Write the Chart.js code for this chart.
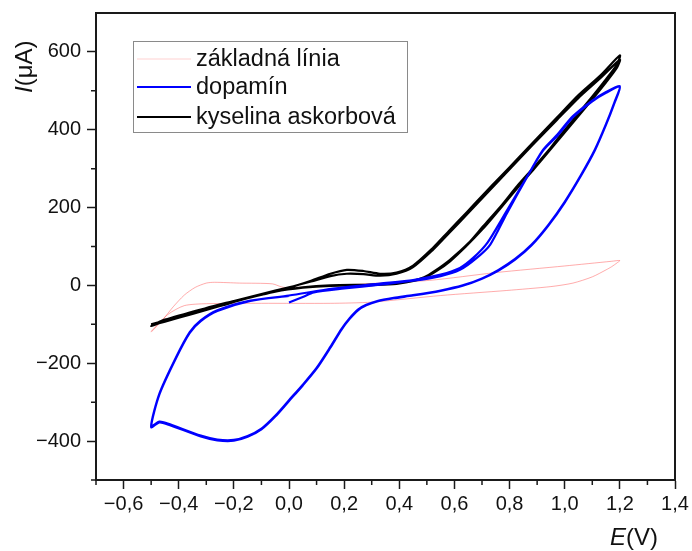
<!DOCTYPE html>
<html>
<head>
<meta charset="utf-8">
<script src="https://cdn.jsdelivr.net/npm/chart.js@4/dist/chart.umd.min.js"></script>
<style>
  html, body { margin: 0; padding: 0; background: #fff; }
  canvas { display: block; }
</style>
</head>
<body>
<canvas id="cvChart" width="692" height="551"></canvas>
<script>
// legend labels
const seriesLabels = ['základná línia', 'dopamín', 'kyselina askorbová'];

// axis ticks
const xMajorTicks = [-0.6, -0.4, -0.2, 0.0, 0.2, 0.4, 0.6, 0.8, 1.0, 1.2, 1.4];
const xMinorTicks = [-0.7, -0.5, -0.3, -0.1, 0.1, 0.3, 0.5, 0.7, 0.9, 1.1, 1.3];
const yMajorTicks = [-400, -200, 0, 200, 400, 600];
const yMinorTicks = [-500, -300, -100, 100, 300, 500];

// zakladna linia (baseline) - E in V, I in uA
const baseE = [-0.5, -0.46, -0.42, -0.38, -0.34, -0.3, -0.27, -0.18, -0.06, -0.02, 0.1, 0.3, 0.51, 0.75, 1.0, 1.17, 1.2,
               1.19, 1.17, 1.15, 1.1, 1.03, 0.95, 0.79, 0.55, 0.3, 0.15, -0.1, -0.3, -0.38, -0.44, -0.5];
const baseI = [-120, -90, -55, -25, -5, 6, 8, 6, 4, -5, -3, 5, 13, 33, 50, 62, 64,
               58, 48, 40, 22, 6, -3, -13, -26, -43, -46, -46, -47, -52, -75, -118];

// dopamin
const dopaminE = [0.0, 0.05, 0.09, 0.2, 0.33, 0.45, 0.55, 0.62, 0.68, 0.73, 0.79, 0.863, 0.92, 0.97, 1.03, 1.1, 1.15, 1.2,
                  1.18, 1.15, 1.11, 1.06, 1.0, 0.94, 0.88, 0.82, 0.76, 0.7, 0.63, 0.55, 0.45, 0.38, 0.32, 0.28, 0.25, 0.22, 0.19, 0.15, 0.1, 0.05, 0.0, -0.05, -0.1, -0.15, -0.2, -0.26, -0.32, -0.44, -0.47, -0.5,
                  -0.47, -0.41, -0.36, -0.32, -0.26, -0.14, 0.0, 0.16, 0.33, 0.45, 0.55, 0.62, 0.67, 0.72, 0.78, 0.86, 0.92, 0.97, 1.03, 1.1, 1.15, 1.2,
                  1.18, 1.15, 1.11, 1.06, 1.0, 0.94, 0.88, 0.82, 0.76, 0.7, 0.63, 0.55, 0.45, 0.38, 0.32, 0.28, 0.25, 0.22, 0.19, 0.15, 0.1, 0.05, 0.0, -0.05, -0.1, -0.15, -0.2, -0.26, -0.32, -0.44, -0.47, -0.5,
                  -0.47, -0.41, -0.36, -0.32, -0.26, -0.14, 0.0];
const dopaminI = [-44, -30, -18, -8, 2, 12, 24, 40, 70, 105, 185, 278, 347, 385, 435, 475, 497, 512,
                  470, 415, 350, 285, 215, 155, 105, 68, 40, 18, 0, -13, -25, -32, -40, -50, -62, -84, -112, -158, -212, -255, -295, -335, -368, -387, -397, -396, -386, -355, -350, -362,
                  -278, -185, -120, -90, -64, -39, -26, -8, 5, 14, 28, 45, 72, 110, 180, 275, 345, 382, 432, 473, 495, 510,
                  468, 413, 348, 283, 213, 153, 103, 66, 38, 17, -1, -14, -26, -33, -41, -51, -64, -86, -114, -160, -214, -257, -297, -337, -370, -389, -399, -398, -388, -357, -352, -364,
                  -280, -187, -122, -92, -66, -40, -27];

// kyselina askorbova
const ascorbicE = [-0.5, -0.4, -0.3, -0.2, -0.1, 0.0, 0.08, 0.15, 0.21, 0.27, 0.33, 0.39, 0.45, 0.52, 0.58, 0.645, 0.7, 0.765, 0.83, 0.885, 0.97, 1.05, 1.13, 1.2,
                   1.19, 1.15, 1.08, 0.983, 0.947, 0.89, 0.827, 0.77, 0.704, 0.65, 0.584, 0.53, 0.49, 0.44, 0.39, 0.3, 0.15, 0.05, -0.05, -0.15, -0.25, -0.35, -0.45, -0.5,
                   -0.45, -0.3, -0.2, -0.1, 0.0, 0.08, 0.15, 0.21, 0.27, 0.33, 0.39, 0.45, 0.52, 0.58, 0.645, 0.765, 0.885, 0.97, 1.05, 1.13, 1.2,
                   1.19, 1.15, 1.08, 0.983, 0.89, 0.827, 0.704, 0.584, 0.49, 0.39, 0.3, 0.15, 0.05, -0.05, -0.15, -0.25, -0.35, -0.45, -0.5];
const ascorbicI = [-100, -80, -60, -42, -24, -6, 12, 30, 40, 37, 30, 33, 51, 95, 140, 188, 230, 278, 326, 367, 430, 489, 540, 591,
                   568, 530, 468, 385, 352, 305, 255, 205, 152, 108, 66, 38, 21, 10, 5, 2, 0, -5, -15, -32, -52, -72, -92, -104,
                   -88, -58, -40, -22, -5, 10, 24, 30, 29, 25, 30, 47, 90, 134, 182, 272, 362, 424, 482, 533, 580,
                   560, 522, 461, 379, 300, 249, 146, 62, 19, 4, 1, -1, -6, -16, -33, -53, -73, -93, -103];

function toPoints(xs, ys) {
    return xs.map(function(x, i) { return { x: x, y: ys[i] }; });
}

function fmtX(v) {
    var s = Math.abs(v) < 1e-9 ? '0,0' : v.toFixed(1).replace('.', ',');
    return s.replace('-', '\u2212');
}
function fmtY(v) {
    return String(v).replace('-', '\u2212');
}

const axisColor = '#1a1a1a';
const tickFont = { family: 'Liberation Sans, Arial, sans-serif', size: 20 };

// frame, minor ticks, axis titles and the boxed legend
const decoPlugin = {
    id: 'deco',
    afterDraw: function(chart) {
        const c = chart.ctx;
        const a = chart.chartArea;
        const xs = chart.scales.x, ys = chart.scales.y;
        c.save();
        c.strokeStyle = axisColor;
        c.lineWidth = 2;
        c.strokeRect(a.left, a.top, a.right - a.left, a.bottom - a.top);

        c.lineWidth = 1.5;
        c.beginPath();
        xMinorTicks.forEach(function(v) {
            var px = xs.getPixelForValue(v);
            c.moveTo(px, a.bottom); c.lineTo(px, a.bottom + 5);
        });
        yMinorTicks.forEach(function(v) {
            var py = ys.getPixelForValue(v);
            c.moveTo(a.left, py); c.lineTo(a.left - 5, py);
        });
        c.stroke();

        // axis titles
        c.fillStyle = '#111';
        c.textBaseline = 'alphabetic';
        c.textAlign = 'left';
        c.font = 'italic 24px Liberation Sans, Arial, sans-serif';
        var wE = c.measureText('E').width;
        c.fillText('E', 610, 545);
        c.font = '24px Liberation Sans, Arial, sans-serif';
        c.fillText('(V)', 610 + wE, 545);

        c.save();
        c.translate(32, 93);
        c.rotate(-Math.PI / 2);
        c.font = 'italic 24px Liberation Sans, Arial, sans-serif';
        var wI = c.measureText('I').width;
        c.fillText('I', 0, 0);
        c.font = '24px Liberation Sans, Arial, sans-serif';
        c.fillText('(\u03bcA)', wI, 0);
        c.restore();

        // legend
        var lx = a.left + 37, ly = a.top + 28, lw = 274, lh = 91;
        c.fillStyle = '#fff';
        c.fillRect(lx, ly, lw, lh);
        c.strokeStyle = '#8a8a8a';
        c.lineWidth = 1;
        c.strokeRect(lx + 0.5, ly + 0.5, lw, lh);
        c.font = '23.5px Liberation Sans, Arial, sans-serif';
        c.textBaseline = 'middle';
        var rows = [18, 46, 76];
        chart.data.datasets.forEach(function(ds, i) {
            var ry = ly + rows[i];
            c.strokeStyle = ds.legendColor;
            c.lineWidth = ds.borderWidth;
            c.beginPath();
            c.moveTo(lx + 4, ry); c.lineTo(lx + 58, ry);
            c.stroke();
            c.fillStyle = '#111';
            c.fillText(ds.label, lx + 63, ry + 1);
        });
        c.restore();
    }
};

const dt = {
    datasets: [{
        label: seriesLabels[0],
        data: toPoints(baseE, baseI),
        borderColor: 'rgba(255,90,90,0.5)',
        legendColor: 'rgba(255,120,120,0.35)',
        borderWidth: 1,
        order: 2
    }, {
        label: seriesLabels[1],
        data: toPoints(dopaminE, dopaminI),
        borderColor: '#0000ff',
        legendColor: '#0000ff',
        borderWidth: 2.2,
        order: 0
    }, {
        label: seriesLabels[2],
        data: toPoints(ascorbicE, ascorbicI),
        borderColor: '#000000',
        legendColor: '#000000',
        borderWidth: 2.2,
        order: 1
    }]
};
dt.datasets.forEach(function(ds) {
    ds.showLine = true;
    ds.pointRadius = 0;
    ds.tension = 0.25;
    ds.fill = false;
});

const config_cv = {
    type: 'scatter',
    data: dt,
    options: {
        responsive: false,
        animation: false,
        devicePixelRatio: 1,
        layout: { padding: { top: 13, right: 17, left: 0, bottom: 0 } },
        plugins: { legend: { display: false }, tooltip: { enabled: false } },
        scales: {
            x: {
                type: 'linear',
                min: -0.7,
                max: 1.4,
                afterBuildTicks: function(s) { s.ticks = xMajorTicks.map(function(v) { return { value: v }; }); },
                afterFit: function(s) { s.height = 71; s.paddingLeft = 0; s.paddingRight = 0; },
                ticks: { callback: fmtX, font: tickFont, color: '#111', padding: 3, maxRotation: 0, autoSkip: false },
                grid: { drawOnChartArea: false, tickLength: 9, tickWidth: 1.5, tickColor: axisColor },
                border: { display: true, color: axisColor, width: 2 }
            },
            y: {
                type: 'linear',
                min: -500,
                max: 700,
                afterBuildTicks: function(s) { s.ticks = yMajorTicks.map(function(v) { return { value: v }; }); },
                afterFit: function(s) { s.width = 96; s.paddingTop = 0; s.paddingBottom = 0; },
                ticks: { callback: fmtY, font: tickFont, color: '#111', padding: 6, autoSkip: false },
                grid: { drawOnChartArea: false, tickLength: 9, tickWidth: 1.5, tickColor: axisColor },
                border: { display: true, color: axisColor, width: 2 }
            }
        }
    },
    plugins: [decoPlugin]
};

const cvChart = new Chart(document.getElementById('cvChart'), config_cv);
</script>
</body>
</html>
